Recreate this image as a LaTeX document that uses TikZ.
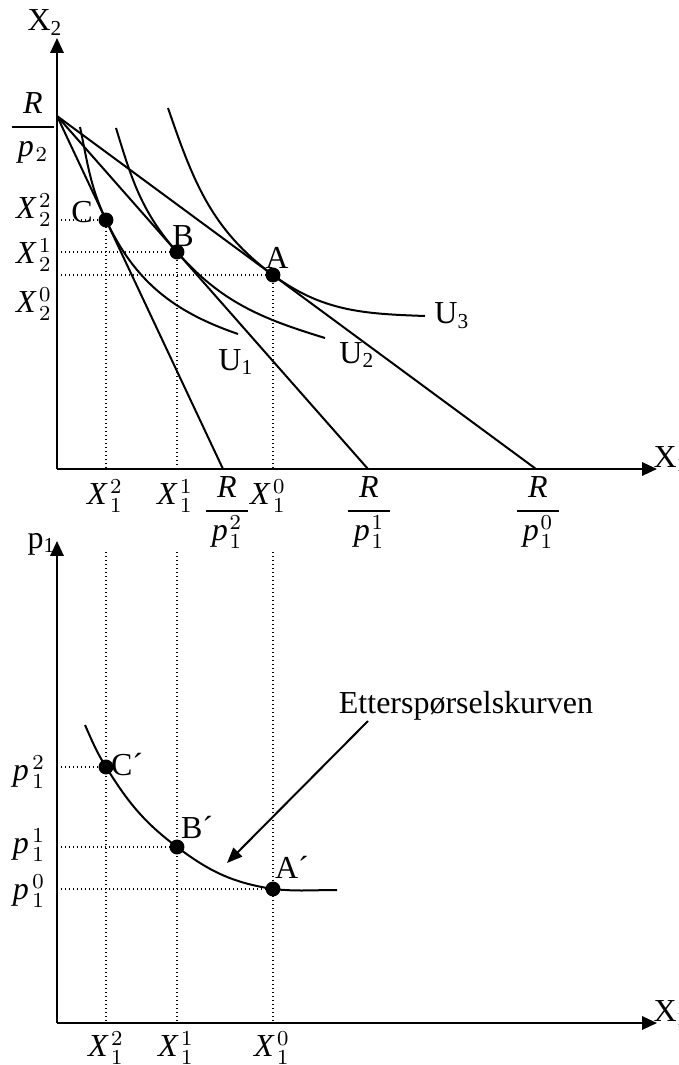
\documentclass[tikz,border=0pt]{standalone}
\usepackage{amsmath}
\usepackage{fontspec}
\setmainfont{Liberation Serif}
\usetikzlibrary{arrows.meta,calc}
\newcommand{\rp}[1]{$\dfrac{\mathit{R}}{\,\mathit{p}\mkern1mu{}#1\,}$}
\newcommand{\qty}[3]{$\mathit{#1}\mkern2mu{}^{#2}_{#3}$}
\tikzset{
  axis/.style={line width=0.8pt,-{Triangle[length=5.6pt,width=5pt]}},
  budget/.style={line width=0.75pt},
  curve/.style={line width=0.75pt},
  guide/.style={line width=0.5pt,densely dotted},
  dot/.style={circle,fill=black,inner sep=0pt,minimum size=5.6pt},
  lbl/.style={inner sep=0pt,font=\fontsize{12}{14}\selectfont},
  pointer/.style={line width=0.75pt,-{Triangle[length=5.8pt,width=4.6pt]}}
}

\begin{document}
\begin{tikzpicture}[x=0.375pt,y=-0.375pt]
\useasboundingbox (0,0) rectangle (679,1065);
% upper panel: budget lines and indifference curves
\coordinate (O1) at (57,469);
\coordinate (x2top) at (57,38);
\coordinate (x1end) at (657,469);
\draw[axis] (O1) -- (x2top);
\draw[axis] (O1) -- (x1end);
\node[lbl,anchor=base west] (x2lab) at (27,31) {X\textsubscript{2}};
\node[lbl,anchor=base west] (x1lab) at (653,467) {X\textsubscript{1}};

\coordinate (K) at (57,116);
\coordinate (K2) at (223,469);
\coordinate (K1) at (368,469);
\coordinate (K0) at (536,469);
\draw[budget] (K) -- (K2);
\draw[budget] (K) -- (K1);
\draw[budget] (K) -- (K0);

\node[dot] (C) at (106,220) {};
\node[dot] (B) at (177,252) {};
\node[dot] (A) at (273,275) {};
\draw[guide] (O1 |- C) -- (C.center) -- (C.center |- O1);
\draw[guide] (O1 |- B) -- (B.center) -- (B.center |- O1);
\draw[guide] (O1 |- A) -- (A.center) -- (A.center |- O1);

\coordinate (u1s) at (80,127);
\coordinate (u1e) at (238,334);
\coordinate (u2s) at (116,128);
\coordinate (u2e) at (325,338);
\coordinate (u3s) at (168,108);
\coordinate (u3e) at (425,316);
\draw[curve] (u1s) to[out=-78,in=115.2] (C.center) to[out=-64.8,in=161] (u1e);
\draw[curve] (u2s) to[out=-73,in=131.4] (B.center) to[out=-48.6,in=163] (u2e);
\draw[curve] (u3s) to[out=-71,in=143.6] (A.center) to[out=-36.4,in=178] (u3e);

\node[lbl] (Clab) at (82,212) {C};
\node[lbl] (Blab) at (183,236) {B};
\node[lbl] (Alab) at (277,258) {A};
\node[lbl] (u1lab) at (236,362) {U\textsubscript{1}};
\node[lbl] (u2lab) at (357,355) {U\textsubscript{2}};
\node[lbl] (u3lab) at (452,316) {U\textsubscript{3}};

\node[lbl,anchor=base] (kap) at (33,135) {\rp{_{2}}};
\node[lbl] (x22) at (34,210) {\qty{X}{2}{2}};
\node[lbl] (x21) at (34,255) {\qty{X}{1}{2}};
\node[lbl] (x20) at (34,304) {\qty{X}{0}{2}};
\node[lbl] (x12a) at (105,496) {\qty{X}{2}{1}};
\node[lbl] (x11a) at (175,496) {\qty{X}{1}{1}};
\node[lbl] (x10a) at (268,496) {\qty{X}{0}{1}};
\node[lbl,anchor=base] (kap2) at (227,519) {\rp{^{2}_{1}}};
\node[lbl,anchor=base] (kap1) at (369,519) {\rp{^{1}_{1}}};
\node[lbl,anchor=base] (kap0) at (538,519) {\rp{^{0}_{1}}};

% lower panel: demand curve
\coordinate (O2) at (57,1023);
\coordinate (p1top) at (57,541);
\coordinate (x1end2) at (657,1023);
\draw[axis] (O2) -- (p1top);
\draw[axis] (O2) -- (x1end2);
\node[lbl,anchor=base west] (p1lab) at (27,548) {p\textsubscript{1}};
\node[lbl,anchor=base west] (x1lab2) at (653,1021) {X\textsubscript{1}};

\coordinate (v2) at (106,552);
\coordinate (v1) at (177,552);
\coordinate (v0) at (273,552);
\draw[guide] (v2) -- (v2 |- O2);
\draw[guide] (v1) -- (v1 |- O2);
\draw[guide] (v0) -- (v0 |- O2);

\node[dot] (Cp) at (106,767) {};
\node[dot] (Bp) at (177,847) {};
\node[dot] (Ap) at (273,889) {};
\draw[guide] (O2 |- Cp) -- (Cp.center);
\draw[guide] (O2 |- Bp) -- (Bp.center);
\draw[guide] (O2 |- Ap) -- (Ap.center);

\coordinate (d0) at (85,725);
\coordinate (d1) at (337,890);
\draw[curve] (d0) to[out=-66,in=122] (Cp.center) to[out=-58,in=143] (Bp.center)
  to[out=-37,in=171] (Ap.center) to[out=-6,in=180] (d1);

\node[lbl] (Cplab) at (127,765) {C´};
\node[lbl] (Bplab) at (197,827) {B´};
\node[lbl] (Aplab) at (292,867) {A´};
\node[lbl] (p12) at (29,772) {\qty{p}{2}{1}};
\node[lbl] (p11) at (29,845) {\qty{p}{1}{1}};
\node[lbl] (p10) at (29,891) {\qty{p}{0}{1}};
\node[lbl] (x12b) at (106,1048) {\qty{X}{2}{1}};
\node[lbl] (x11b) at (176,1048) {\qty{X}{1}{1}};
\node[lbl] (x10b) at (272,1048) {\qty{X}{0}{1}};

\node[lbl,anchor=base] (dlab) at (466,713) {Etterspørselskurven};
\coordinate (tail) at (368,721);
\coordinate (tip) at (227,863);
\draw[pointer] (tail) -- (tip);
\end{tikzpicture}
\end{document}
